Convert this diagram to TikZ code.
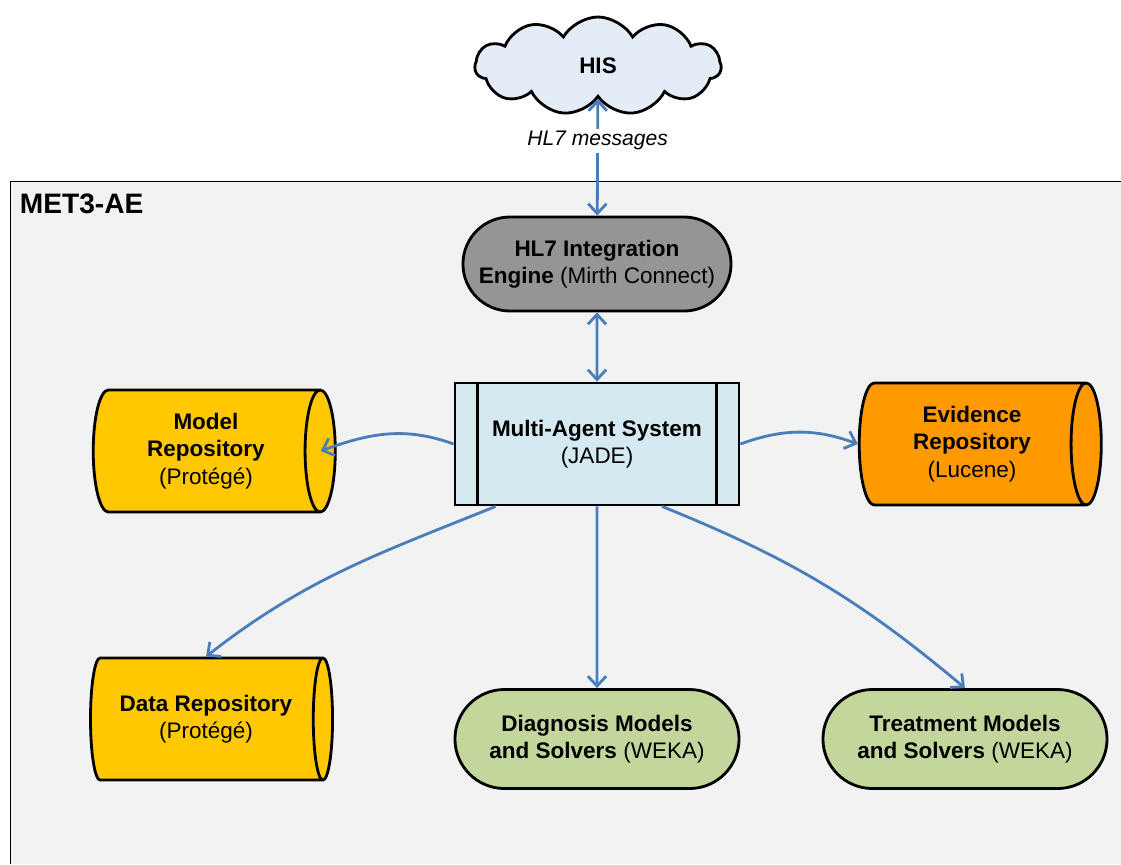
\documentclass[tikz,border=0pt]{standalone}
\usepackage{fontspec}
\setmainfont{Liberation Sans}
\usetikzlibrary{shapes,arrows.meta,positioning}

\definecolor{framegray}{HTML}{F2F2F2}
\definecolor{cloudblue}{HTML}{E4ECF7}
\definecolor{enginegray}{HTML}{959595}
\definecolor{masblue}{HTML}{D5EAF0}
\definecolor{repogold}{HTML}{FFC800}
\definecolor{repoorange}{HTML}{FF9900}
\definecolor{solvergreen}{HTML}{C3D69B}
\definecolor{linkblue}{HTML}{4A7EBB}

\tikzset{
  box/.style={draw=black, line width=2pt, align=center, inner sep=0pt,
              font=\fontsize{16}{19.4}\selectfont},
  repo/.style={box, cylinder, aspect=0.4, cylinder uses custom fill,
               cylinder body fill=#1, cylinder end fill=#1,
               minimum height=6.05cm, minimum width=3.05cm},
  pill/.style={box, rounded rectangle, fill=#1},
  link/.style={draw=linkblue, line width=2pt},
}

\begin{document}
\begin{tikzpicture}[x=0.025cm, y=-0.025cm,
                    >={Straight Barb[length=7pt,width=13pt]}]
    \useasboundingbox (0,0) rectangle (1121,864);
    % frame of the system
    \fill[framegray] (10,181) rectangle (1121,864);
    \draw[line width=0.7pt] (1121,181) -- (10,181) -- (10,864);
    \node[anchor=west, font=\fontsize{20}{24}\selectfont\bfseries] (title) at (15,204) {MET3-AE};

    \node[box, cloud, cloud puffs=11, cloud puff arc=120, cloud ignores aspect,
          fill=cloudblue, minimum width=6.15cm, minimum height=2.45cm] (his) at (598,66) {\textbf{HIS}};
    \node[pill=enginegray, minimum width=6.7cm, minimum height=2.35cm] (hl7) at (597,264)
         {\textbf{HL7 Integration}\\\textbf{Engine} (Mirth Connect)};
    \node[box, rectangle, fill=masblue, minimum width=7.1cm, minimum height=3.05cm] (mas) at (597,444)
         {\textbf{Multi-Agent System}\\(JADE)};
    \draw[line width=2pt] ([xshift=0.6cm]mas.north west) -- ([xshift=0.6cm]mas.south west);
    \draw[line width=2pt] ([xshift=-0.6cm]mas.north east) -- ([xshift=-0.6cm]mas.south east);

    \node[repo=repogold] (model) at (206,451) {\textbf{Model}\\\textbf{Repository}\\(Protégé)};
    \node[repo=repoorange] (evid) at (972,444) {\textbf{Evidence}\\\textbf{Repository}\\(Lucene)};
    \node[repo=repogold] (data) at (206,719) {\textbf{Data Repository}\\(Protégé)};
    \node[pill=solvergreen, minimum width=7.1cm, minimum height=2.475cm] (diag) at (597,739)
         {\textbf{Diagnosis Models}\\\textbf{and Solvers} (WEKA)};
    \node[pill=solvergreen, minimum width=7.1cm, minimum height=2.475cm] (treat) at (965,739)
         {\textbf{Treatment Models}\\\textbf{and Solvers} (WEKA)};

    % connectors
    \draw[link, <->] (his) -- node[pos=0.36, fill=white, inner sep=2pt,
          font=\fontsize{15}{18}\selectfont\itshape] (msgs) {HL7 messages} (hl7);
    \draw[link, <->] (hl7) -- (mas);
    \draw[link, ->] (mas.west) to[out=160, in=20] ([xshift=-0.4cm]model.east);
    \draw[link, ->] (mas.east) to[out=20, in=160] (evid.west);
    \draw[link, ->] ([xshift=1.05cm]mas.south west) to[out=202, in=38] (data.north);
    \draw[link, ->] (mas) -- (diag);
    \draw[link, ->] ([xshift=1.625cm]mas.south) to[out=-22, in=140] (treat.north);
\end{tikzpicture}
\end{document}
